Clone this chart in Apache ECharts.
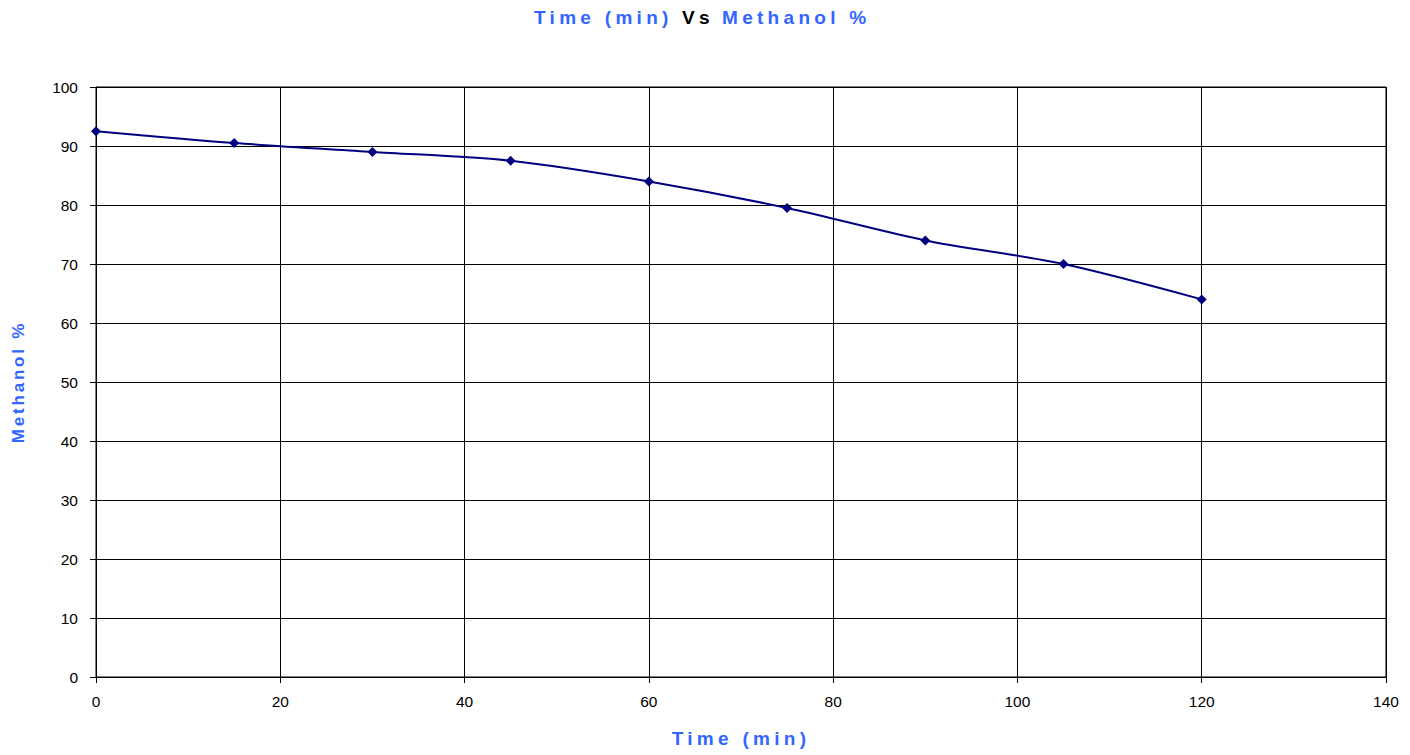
<!DOCTYPE html>
<html><head><meta charset="utf-8">
<script src="https://cdn.jsdelivr.net/npm/echarts@6/dist/echarts.min.js"></script>
<style>
html,body{margin:0;padding:0;background:#fff}
#c{width:1410px;height:755px}
#c svg text[style*="bold"], #c svg text[font-weight="bold"], #c svg tspan[style*="bold"]{letter-spacing:4.3px; font-weight:700 !important; font-family:"Liberation Sans", Arial, sans-serif !important}
#c svg text[style*="17px"][style*="bold"]{letter-spacing:2.8px}
</style>
</head><body><div id="c"></div>
<script>
const timeMin = [0, 15, 30, 45, 60, 75, 90, 105, 120];
const methanolPct = [92.5, 90.5, 89, 87.5, 84, 79.5, 74, 70, 64];
const xTicks = [0, 20, 40, 60, 80, 100, 120, 140];
const yTicks = [0, 10, 20, 30, 40, 50, 60, 70, 80, 90, 100];
const titleParts = ['Time (min)', 'Vs', 'Methanol %'];

const chart = echarts.init(document.getElementById('c'), null, {renderer: 'svg'});
const blue = '#3366ff';
const fontFam = '"Liberation Sans", Arial, sans-serif';
const tStyle = (c) => ({color: c, fontWeight: 'bold', fontSize: 19, fontFamily: fontFam});
chart.setOption({
  animation: false,
  backgroundColor: '#fff',
  title: [
    {text: titleParts[0], left: 534, top: 8, padding: 0, textStyle: tStyle(blue)},
    {text: titleParts[1], left: 682, top: 8, padding: 0, textStyle: tStyle('#000')},
    {text: titleParts[2], left: 722, top: 8, padding: 0, textStyle: tStyle(blue)}
  ],
  grid: {left: 96, right: 24, top: 87, bottom: 78, show: true, borderColor: '#000', borderWidth: 1},
  xAxis: {
    type: 'value', min: 0, max: 140, interval: 20,
    name: 'Time (min)', nameLocation: 'middle', nameGap: 52,
    nameTextStyle: {color: blue, fontWeight: 'bold', fontSize: 19, fontFamily: fontFam},
    axisLine: {show: true, lineStyle: {color: '#000'}},
    axisTick: {show: true, length: 6, lineStyle: {color: '#000'}},
    axisLabel: {color: '#000', fontSize: 15.5, fontFamily: fontFam, margin: 16},
    splitLine: {show: true, lineStyle: {color: '#000', width: 1}}
  },
  yAxis: {
    type: 'value', min: 0, max: 100, interval: 10,
    name: 'Methanol %', nameLocation: 'middle', nameGap: 69,
    nameTextStyle: {color: blue, fontWeight: 'bold', fontSize: 17, fontFamily: fontFam},
    axisLine: {show: true, lineStyle: {color: '#000'}},
    axisTick: {show: true, length: 6, lineStyle: {color: '#000'}},
    axisLabel: {color: '#000', fontSize: 15.5, fontFamily: fontFam, margin: 18},
    splitLine: {show: true, lineStyle: {color: '#000', width: 1}}
  },
  series: [{
    type: 'line',
    data: timeMin.map((t, i) => [t, methanolPct[i]]),
    smooth: 0.3,
    symbol: 'diamond', symbolSize: 10,
    itemStyle: {color: '#000080'},
    lineStyle: {color: '#000080', width: 2}
  }]
});
</script></body></html>
